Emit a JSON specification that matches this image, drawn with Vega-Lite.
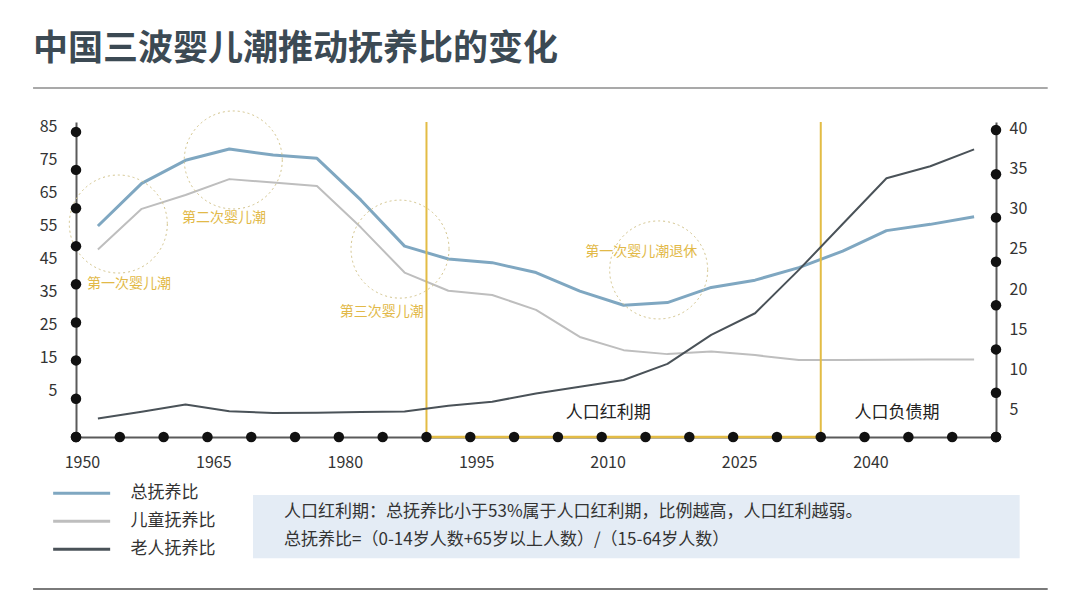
{
  "$schema": "https://vega.github.io/schema/vega-lite/v6.json",
  "width": 920,
  "height": 315,
  "autosize": {"type": "none"},
  "padding": {"left": 76, "top": 122, "right": 84, "bottom": 160},
  "background": "white",
  "title": {
    "text": "中国三波婴儿潮推动抚养比的变化",
    "anchor": "start",
    "frame": "group",
    "dx": -43,
    "offset": 20,
    "font": "Noto Sans CJK SC",
    "fontSize": 35,
    "fontWeight": "bold",
    "color": "#3C4A54"
  },
  "config": {
    "view": {"stroke": null},
    "font": "Noto Sans CJK SC",
    "text": {"font": "Noto Sans CJK SC"},
    "axis": {"labelOverlap": false}
  },
  "datasets": {
    "ratios": [
      {"year": 1950, "series": "总抚养比", "value": 54.9},
      {"year": 1955, "series": "总抚养比", "value": 67.8},
      {"year": 1960, "series": "总抚养比", "value": 74.8},
      {"year": 1965, "series": "总抚养比", "value": 78.2},
      {"year": 1970, "series": "总抚养比", "value": 76.4},
      {"year": 1975, "series": "总抚养比", "value": 75.4},
      {"year": 1980, "series": "总抚养比", "value": 62.8},
      {"year": 1985, "series": "总抚养比", "value": 48.8},
      {"year": 1990, "series": "总抚养比", "value": 44.9},
      {"year": 1995, "series": "总抚养比", "value": 43.8},
      {"year": 2000, "series": "总抚养比", "value": 40.8},
      {"year": 2005, "series": "总抚养比", "value": 35.2},
      {"year": 2010, "series": "总抚养比", "value": 30.9},
      {"year": 2015, "series": "总抚养比", "value": 31.7},
      {"year": 2020, "series": "总抚养比", "value": 36.3},
      {"year": 2025, "series": "总抚养比", "value": 38.5},
      {"year": 2030, "series": "总抚养比", "value": 42.3},
      {"year": 2035, "series": "总抚养比", "value": 47.3},
      {"year": 2040, "series": "总抚养比", "value": 53.5},
      {"year": 2045, "series": "总抚养比", "value": 55.4},
      {"year": 2050, "series": "总抚养比", "value": 57.7},
      {"year": 1950, "series": "儿童抚养比", "value": 47.8},
      {"year": 1955, "series": "儿童抚养比", "value": 60.1},
      {"year": 1960, "series": "儿童抚养比", "value": 64.3},
      {"year": 1965, "series": "儿童抚养比", "value": 69.1},
      {"year": 1970, "series": "儿童抚养比", "value": 68.1},
      {"year": 1975, "series": "儿童抚养比", "value": 67.0},
      {"year": 1980, "series": "儿童抚养比", "value": 54.5},
      {"year": 1985, "series": "儿童抚养比", "value": 40.8},
      {"year": 1990, "series": "儿童抚养比", "value": 35.3},
      {"year": 1995, "series": "儿童抚养比", "value": 34.0},
      {"year": 2000, "series": "儿童抚养比", "value": 29.5},
      {"year": 2005, "series": "儿童抚养比", "value": 21.3},
      {"year": 2010, "series": "儿童抚养比", "value": 17.3},
      {"year": 2015, "series": "儿童抚养比", "value": 16.1},
      {"year": 2020, "series": "儿童抚养比", "value": 16.9},
      {"year": 2025, "series": "儿童抚养比", "value": 15.8},
      {"year": 2030, "series": "儿童抚养比", "value": 14.3},
      {"year": 2035, "series": "儿童抚养比", "value": 14.3},
      {"year": 2040, "series": "儿童抚养比", "value": 14.4},
      {"year": 2045, "series": "儿童抚养比", "value": 14.5},
      {"year": 2050, "series": "儿童抚养比", "value": 14.5},
      {"year": 1950, "series": "老人抚养比", "value": 3.9},
      {"year": 1955, "series": "老人抚养比", "value": 4.75},
      {"year": 1960, "series": "老人抚养比", "value": 5.65},
      {"year": 1965, "series": "老人抚养比", "value": 4.8},
      {"year": 1970, "series": "老人抚养比", "value": 4.6},
      {"year": 1975, "series": "老人抚养比", "value": 4.63},
      {"year": 1980, "series": "老人抚养比", "value": 4.7},
      {"year": 1985, "series": "老人抚养比", "value": 4.78},
      {"year": 1990, "series": "老人抚养比", "value": 5.48},
      {"year": 1995, "series": "老人抚养比", "value": 6.0},
      {"year": 2000, "series": "老人抚养比", "value": 7.0},
      {"year": 2005, "series": "老人抚养比", "value": 7.85},
      {"year": 2010, "series": "老人抚养比", "value": 8.7},
      {"year": 2015, "series": "老人抚养比", "value": 10.7},
      {"year": 2020, "series": "老人抚养比", "value": 14.3},
      {"year": 2025, "series": "老人抚养比", "value": 17.0},
      {"year": 2030, "series": "老人抚养比", "value": 22.4},
      {"year": 2035, "series": "老人抚养比", "value": 28.1},
      {"year": 2040, "series": "老人抚养比", "value": 33.8},
      {"year": 2045, "series": "老人抚养比", "value": 35.3},
      {"year": 2050, "series": "老人抚养比", "value": 37.4}
    ],
    "circles": [
      {"year": 1952.33, "v": 55.5},
      {"year": 1965.45, "v": 74.9},
      {"year": 1984.48, "v": 47.9},
      {"year": 2014.0, "v": 41.6}
    ],
    "waves": [
      {"year": 1953.55, "v": 37.3, "label": "第一次婴儿潮"},
      {"year": 1964.4, "v": 57.2, "label": "第二次婴儿潮"},
      {"year": 1982.4, "v": 28.95, "label": "第三次婴儿潮"},
      {"year": 2012.0, "v": 47.1, "label": "第一次婴儿潮退休"}
    ],
    "periods": [
      {"year": 2008.25, "v": -1.6, "label": "人口红利期"},
      {"year": 2041.2, "v": -1.6, "label": "人口负债期"}
    ],
    "bottomDots": [
      {"year": 1947.5}, {"year": 1952.5}, {"year": 1957.5}, {"year": 1962.5},
      {"year": 1967.5}, {"year": 1972.5}, {"year": 1977.5}, {"year": 1982.5},
      {"year": 1987.5}, {"year": 1992.5}, {"year": 1997.5}, {"year": 2002.5},
      {"year": 2007.5}, {"year": 2012.5}, {"year": 2017.5}, {"year": 2022.5},
      {"year": 2027.5}, {"year": 2032.5}, {"year": 2037.5}, {"year": 2042.5},
      {"year": 2047.5}, {"year": 2052.5}
    ],
    "leftDots": [
      {"v": -9}, {"v": 2.6}, {"v": 14.2}, {"v": 25.7}, {"v": 37.25},
      {"v": 48.8}, {"v": 60.3}, {"v": 71.9}, {"v": 83.4}
    ],
    "rightDots": [
      {"v": 1.6}, {"v": 7.1}, {"v": 12.5}, {"v": 18.0}, {"v": 23.4},
      {"v": 28.9}, {"v": 34.3}, {"v": 39.8}
    ],
    "noteLines": [
      {"line": 1, "v": -31.6, "text": "人口红利期：总抚养比小于53%属于人口红利期，比例越高，人口红利越弱。"},
      {"line": 2, "v": -40.2, "text": "总抚养比=（0-14岁人数+65岁以上人数）/（15-64岁人数）"}
    ],
    "one": [{}]
  },
  "resolve": {"scale": {"y": "independent"}},
  "layer": [
    {
      "layer": [
        {
          "data": {"name": "ratios"},
          "transform": [{"filter": "datum.series !== '老人抚养比'"}],
          "mark": {"type": "line", "strokeJoin": "round"},
          "encoding": {
            "x": {
              "field": "year", "type": "quantitative",
              "scale": {"domain": [1947.5, 2052.5], "nice": false, "zero": false},
              "axis": {
                "values": [1950, 1965, 1980, 1995, 2010, 2025, 2040], "tickCount": 30,
                "title": null, "grid": false, "ticks": false, "tickSize": 0,
                "labelPadding": 17, "labelOffset": -16, "labelOverlap": false, "labelFontSize": 16, "labelColor": "#333333",
                "labelFont": "Noto Sans CJK SC", "format": "d",
                "domainColor": "#5A5A5A", "domainWidth": 2
              }
            },
            "y": {
              "field": "value", "type": "quantitative",
              "scale": {"domain": [-9, 86.4], "nice": false, "zero": false},
              "axis": {
                "orient": "left",
                "values": [5, 15, 25, 35, 45, 55, 65, 75, 85], "tickCount": 30,
                "title": null, "grid": false, "ticks": false, "tickSize": 0,
                "labelPadding": 19, "labelOverlap": false, "labelFontSize": 16, "labelColor": "#333333",
                "labelFont": "Noto Sans CJK SC",
                "domainColor": "#5A5A5A", "domainWidth": 2
              }
            },
            "color": {
              "field": "series", "type": "nominal",
              "scale": {"domain": ["总抚养比", "儿童抚养比", "老人抚养比"], "range": ["#7FA7C1", "#BEBEBE", "#4A5258"]},
              "legend": {
                "orient": "none", "legendX": -2.85, "legendY": 362.8, "title": null,
                "padding": 0, "symbolType": "M-5,0H5", "symbolSize": 130, "symbolStrokeWidth": 3,
                "labelOffset": 40.45, "rowPadding": 10, "labelFontSize": 17, "labelColor": "#333333",
                "labelFont": "Noto Sans CJK SC", "direction": "vertical"
              }
            },
            "strokeWidth": {"condition": {"test": "datum.series === '总抚养比'", "value": 3}, "value": 2}
          }
        },
        {
          "data": {"name": "one"},
          "mark": {"type": "rule", "color": "#8C8C8C", "strokeWidth": 1.5},
          "encoding": {
            "x": {"datum": 1942.6, "type": "quantitative", "scale": {"domain": [1947.5, 2052.5], "nice": false, "zero": false}},
            "x2": {"datum": 2058.4},
            "y": {"datum": 96.7, "type": "quantitative", "scale": {"domain": [-9, 86.4], "nice": false, "zero": false}}
          }
        },
        {
          "data": {"name": "one"},
          "mark": {"type": "rule", "color": "#7A7A7A", "strokeWidth": 2},
          "encoding": {
            "x": {"datum": 1942.6, "type": "quantitative", "scale": {"domain": [1947.5, 2052.5], "nice": false, "zero": false}},
            "x2": {"datum": 2058.4},
            "y": {"datum": -55.0, "type": "quantitative", "scale": {"domain": [-9, 86.4], "nice": false, "zero": false}}
          }
        },
        {
          "data": {"name": "one"},
          "mark": {"type": "rect", "color": "#E4ECF5"},
          "encoding": {
            "x": {"datum": 1967.7, "type": "quantitative", "scale": {"domain": [1947.5, 2052.5], "nice": false, "zero": false}},
            "x2": {"datum": 2055.2},
            "y": {"datum": -26.6, "type": "quantitative", "scale": {"domain": [-9, 86.4], "nice": false, "zero": false}},
            "y2": {"datum": -45.7}
          }
        },
        {
          "data": {"name": "noteLines"},
          "mark": {"type": "text", "align": "left", "baseline": "middle", "fontSize": 17, "color": "#333333", "font": "Noto Sans CJK SC"},
          "encoding": {
            "x": {"datum": 1971.24, "type": "quantitative", "scale": {"domain": [1947.5, 2052.5], "nice": false, "zero": false}},
            "y": {"field": "v", "type": "quantitative", "scale": {"domain": [-9, 86.4], "nice": false, "zero": false}},
            "text": {"field": "text"}
          }
        },
        {
          "data": {"name": "circles"},
          "mark": {"type": "point", "shape": "circle", "filled": false, "size": 9604, "stroke": "#D2C38A", "strokeWidth": 1, "strokeDash": [2, 3], "opacity": 1},
          "encoding": {
            "x": {"field": "year", "type": "quantitative", "scale": {"domain": [1947.5, 2052.5], "nice": false, "zero": false}},
            "y": {"field": "v", "type": "quantitative", "scale": {"domain": [-9, 86.4], "nice": false, "zero": false}}
          }
        },
        {
          "data": {"name": "one"},
          "mark": {"type": "rule", "color": "#E3BC45", "strokeWidth": 2},
          "encoding": {
            "x": {"datum": 1987.5, "type": "quantitative", "scale": {"domain": [1947.5, 2052.5], "nice": false, "zero": false}}
          }
        },
        {
          "data": {"name": "one"},
          "mark": {"type": "rule", "color": "#E3BC45", "strokeWidth": 2},
          "encoding": {
            "x": {"datum": 2032.5, "type": "quantitative", "scale": {"domain": [1947.5, 2052.5], "nice": false, "zero": false}}
          }
        },
        {
          "data": {"name": "one"},
          "mark": {"type": "rule", "color": "#E3BC45", "strokeWidth": 2.5},
          "encoding": {
            "x": {"datum": 1987.5, "type": "quantitative", "scale": {"domain": [1947.5, 2052.5], "nice": false, "zero": false}},
            "x2": {"datum": 2032.5},
            "y": {"datum": -9, "type": "quantitative", "scale": {"domain": [-9, 86.4], "nice": false, "zero": false}}
          }
        },
        {
          "data": {"name": "waves"},
          "mark": {"type": "text", "align": "center", "baseline": "middle", "fontSize": 14, "color": "#E2B948", "font": "Noto Sans CJK SC"},
          "encoding": {
            "x": {"field": "year", "type": "quantitative", "scale": {"domain": [1947.5, 2052.5], "nice": false, "zero": false}},
            "y": {"field": "v", "type": "quantitative", "scale": {"domain": [-9, 86.4], "nice": false, "zero": false}},
            "text": {"field": "label"}
          }
        },
        {
          "data": {"name": "periods"},
          "mark": {"type": "text", "align": "center", "baseline": "middle", "fontSize": 17, "color": "#222222", "font": "Noto Sans CJK SC"},
          "encoding": {
            "x": {"field": "year", "type": "quantitative", "scale": {"domain": [1947.5, 2052.5], "nice": false, "zero": false}},
            "y": {"field": "v", "type": "quantitative", "scale": {"domain": [-9, 86.4], "nice": false, "zero": false}},
            "text": {"field": "label"}
          }
        },
        {
          "data": {"name": "bottomDots"},
          "mark": {"type": "point", "shape": "circle", "filled": true, "size": 110, "color": "#111111", "opacity": 1},
          "encoding": {
            "x": {"field": "year", "type": "quantitative", "scale": {"domain": [1947.5, 2052.5], "nice": false, "zero": false}},
            "y": {"datum": -9, "type": "quantitative", "scale": {"domain": [-9, 86.4], "nice": false, "zero": false}}
          }
        },
        {
          "data": {"name": "leftDots"},
          "mark": {"type": "point", "shape": "circle", "filled": true, "size": 110, "color": "#111111", "opacity": 1},
          "encoding": {
            "x": {"datum": 1947.5, "type": "quantitative", "scale": {"domain": [1947.5, 2052.5], "nice": false, "zero": false}},
            "y": {"field": "v", "type": "quantitative", "scale": {"domain": [-9, 86.4], "nice": false, "zero": false}}
          }
        }
      ]
    },
    {
      "layer": [
        {
          "data": {"name": "ratios"},
          "transform": [{"filter": "datum.series === '老人抚养比'"}],
          "mark": {"type": "line", "strokeWidth": 2, "strokeJoin": "round"},
          "encoding": {
            "x": {"field": "year", "type": "quantitative", "scale": {"domain": [1947.5, 2052.5], "nice": false, "zero": false}},
            "y": {
              "field": "value", "type": "quantitative",
              "scale": {"domain": [1.6, 40.8], "nice": false, "zero": false},
              "axis": {
                "orient": "right",
                "values": [5, 10, 15, 20, 25, 30, 35, 40], "tickCount": 30,
                "title": null, "grid": false, "ticks": false, "tickSize": 0,
                "labelPadding": 13, "labelOverlap": false, "labelFontSize": 16, "labelColor": "#333333",
                "labelFont": "Noto Sans CJK SC",
                "domainColor": "#5A5A5A", "domainWidth": 2
              }
            },
            "color": {"field": "series", "type": "nominal"}
          }
        },
        {
          "data": {"name": "rightDots"},
          "mark": {"type": "point", "shape": "circle", "filled": true, "size": 110, "color": "#111111", "opacity": 1},
          "encoding": {
            "x": {"datum": 2052.5, "type": "quantitative", "scale": {"domain": [1947.5, 2052.5], "nice": false, "zero": false}},
            "y": {"field": "v", "type": "quantitative", "scale": {"domain": [1.6, 40.8], "nice": false, "zero": false}}
          }
        }
      ]
    }
  ]
}
